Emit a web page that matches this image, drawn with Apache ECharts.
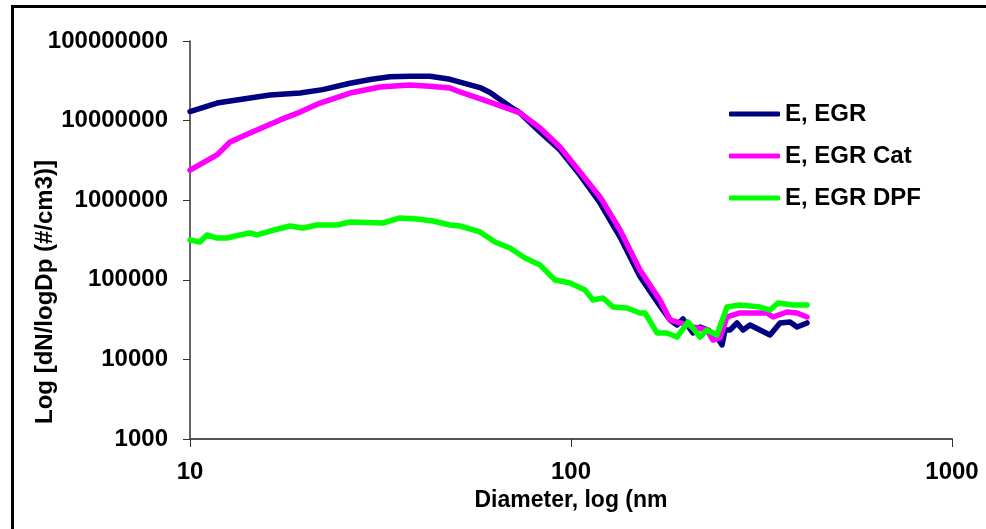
<!DOCTYPE html>
<html>
<head>
<meta charset="utf-8">
<script src="https://cdn.jsdelivr.net/npm/echarts@6/dist/echarts.min.js"></script>
<style>html,body{margin:0;padding:0;background:#fff}#c{width:986px;height:529px}</style>
</head>
<body>
<div id="c"></div>
<script>
// Diameters (nm) and dN/logDp values
var egrD = [10, 11.77, 14.37, 16.22, 19.45, 22.3, 26.3, 30, 33.49, 37.79, 42.66, 48.13, 51.13, 57.7, 61.29, 69.17, 73.47, 82.93, 93.56, 105.6, 119.2, 134.5, 151.7, 171.2, 181.9, 189.8, 196.8, 209, 218.1, 228.9, 241.6, 249.1, 253.7, 261.4, 272.7, 282.8, 295, 313.4, 332.9, 353.7, 375.6, 392, 416.4];
var egrV = [1.3e7, 1.66e7, 1.92e7, 2.1e7, 2.22e7, 2.45e7, 2.95e7, 3.3e7, 3.55e7, 3.6e7, 3.6e7, 3.3e7, 3.05e7, 2.6e7, 2.25e7, 1.5e7, 1.25e7, 7.19e6, 4.27e6, 2.07e6, 9.22e5, 3.45e5, 1.1e5, 4.7e4, 3.13e4, 2.71e4, 3.22e4, 2.15e4, 2.55e4, 2.34e4, 1.91e4, 1.52e4, 2.34e4, 2.34e4, 2.87e4, 2.34e4, 2.71e4, 2.34e4, 2.03e4, 2.87e4, 2.95e4, 2.55e4, 2.87e4];

var catD = [10, 11.77, 12.74, 14.37, 17.23, 19.45, 21.94, 26.3, 31.53, 37.79, 42.66, 48.13, 51.13, 61.29, 73.47, 82.93, 93.56, 105.6, 119.2, 134.5, 151.7, 171.2, 181.9, 193.3, 209, 227.5, 235.9, 246.1, 256.7, 277.7, 300.4, 326.9, 339, 368.9, 392, 416.4];
var catV = [2.39e6, 3.7e6, 5.38e6, 6.99e6, 1.02e7, 1.28e7, 1.66e7, 2.22e7, 2.64e7, 2.8e7, 2.7e7, 2.57e7, 2.29e7, 1.71e7, 1.25e7, 8.07e6, 4.66e6, 2.26e6, 1.1e6, 4.22e5, 1.33e5, 5.58e4, 3.13e4, 2.87e4, 2.55e4, 2.34e4, 1.75e4, 1.86e4, 3.41e4, 3.83e4, 3.83e4, 3.83e4, 3.41e4, 3.94e4, 3.83e4, 3.41e4];

var dpfD = [10, 10.62, 11.08, 11.77, 12.51, 13.53, 14.37, 14.99, 16.22, 18.31, 19.8, 21.54, 24.31, 26.3, 32.11, 35.58, 39.43, 43.43, 48.13, 51.13, 57.7, 63.17, 69.17, 75.73, 82.93, 90.78, 99.4, 108.8, 114.2, 121.3, 128.9, 140.3, 151.7, 156.4, 168.2, 178.6, 189.8, 202.8, 218.1, 227.5, 241.6, 256.7, 277.7, 313.4, 332.9, 349.4, 382.5, 416.4];
var dpfV = [3.16e5, 2.98e5, 3.66e5, 3.35e5, 3.35e5, 3.66e5, 3.87e5, 3.66e5, 4.1e5, 4.74e5, 4.47e5, 4.88e5, 4.88e5, 5.32e5, 5.17e5, 5.98e5, 5.8e5, 5.48e5, 4.88e5, 4.74e5, 3.99e5, 2.98e5, 2.51e5, 1.88e5, 1.53e5, 9.94e4, 9.12e4, 7.45e4, 5.58e4, 5.91e4, 4.55e4, 4.42e4, 3.83e4, 3.83e4, 2.15e4, 2.15e4, 1.91e4, 2.95e4, 1.91e4, 2.34e4, 2.03e4, 4.55e4, 4.82e4, 4.55e4, 4.17e4, 5.11e4, 4.82e4, 4.82e4];

var seriesNames = ['E, EGR', 'E, EGR Cat', 'E, EGR DPF'];
var seriesColors = ['#000080', '#FF00FF', '#00FF00'];
var xTickLabels = ['10', '100', '1000'];
var yTickLabels = ['1000', '10000', '100000', '1000000', '10000000', '100000000'];
var xTitle = 'Diameter, log (nm';
var yTitle = 'Log [dN/logDp (#/cm3)]';

function pairs(d, v) { return d.map(function (x, i) { return [x, v[i]]; }); }
var allData = [pairs(egrD, egrV), pairs(catD, catV), pairs(dpfD, dpfV)];

var FONT = "'Liberation Sans', Arial, sans-serif";
var chart = echarts.init(document.getElementById('c'), null, { renderer: 'canvas' });
chart.setOption({
  animation: false,
  backgroundColor: '#fff',
  grid: { left: 190, right: 34, top: 41, bottom: 90, containLabel: false },
  legend: {
    orient: 'vertical',
    left: 724,
    top: 97,
    padding: 5,
    itemWidth: 51,
    itemHeight: 5,
    itemGap: 18,
    icon: 'roundRect',
    textStyle: { fontFamily: FONT, fontWeight: 'bold', fontSize: 24, color: '#000', lineHeight: 24 },
    data: seriesNames
  },
  xAxis: {
    type: 'log', logBase: 10, min: 10, max: 1000,
    name: xTitle, nameLocation: 'middle', nameGap: 47,
    nameTextStyle: { fontFamily: FONT, fontWeight: 'bold', fontSize: 23, color: '#000' },
    axisLine: { lineStyle: { color: '#555', width: 2 } },
    axisTick: { show: true, length: 8, lineStyle: { color: '#333', width: 1 } },
    minorTick: { show: false },
    splitLine: { show: false },
    axisLabel: {
      margin: 21, fontFamily: FONT, fontWeight: 'bold', fontSize: 24, color: '#000',
      formatter: function (v) { var e = Math.round(Math.log10(v)) - 1; return xTickLabels[e] || ''; }
    }
  },
  yAxis: {
    type: 'log', logBase: 10, min: 1000, max: 100000000,
    axisLine: { show: true, lineStyle: { color: '#333', width: 1.5 } },
    axisTick: { show: true, length: 7, lineStyle: { color: '#333', width: 1 } },
    splitLine: { show: false },
    axisLabel: {
      margin: 22, fontFamily: FONT, fontWeight: 'bold', fontSize: 24, color: '#000',
      formatter: function (v) { var e = Math.round(Math.log10(v)) - 3; return yTickLabels[e] || ''; }
    }
  },
  graphic: [
    { type: 'rect', shape: { x: 12, y: 5, width: 974, height: 3 }, style: { fill: '#000' }, silent: true },
    { type: 'rect', shape: { x: 11, y: 5, width: 3, height: 524 }, style: { fill: '#000' }, silent: true },
    { type: 'text', x: 45, y: 292, rotation: Math.PI / 2,
      style: { text: yTitle, fontFamily: FONT, fontWeight: 'bold', fontSize: 24, fill: '#000', align: 'center', verticalAlign: 'middle' }, silent: true }
  ],
  series: allData.map(function (d, i) {
    return {
      name: seriesNames[i], type: 'line', data: d, showSymbol: false, symbol: 'none',
      lineStyle: { color: seriesColors[i], width: 5.5, cap: 'round', join: 'round' },
      itemStyle: { color: seriesColors[i] }
    };
  })
});
</script>
</body>
</html>
